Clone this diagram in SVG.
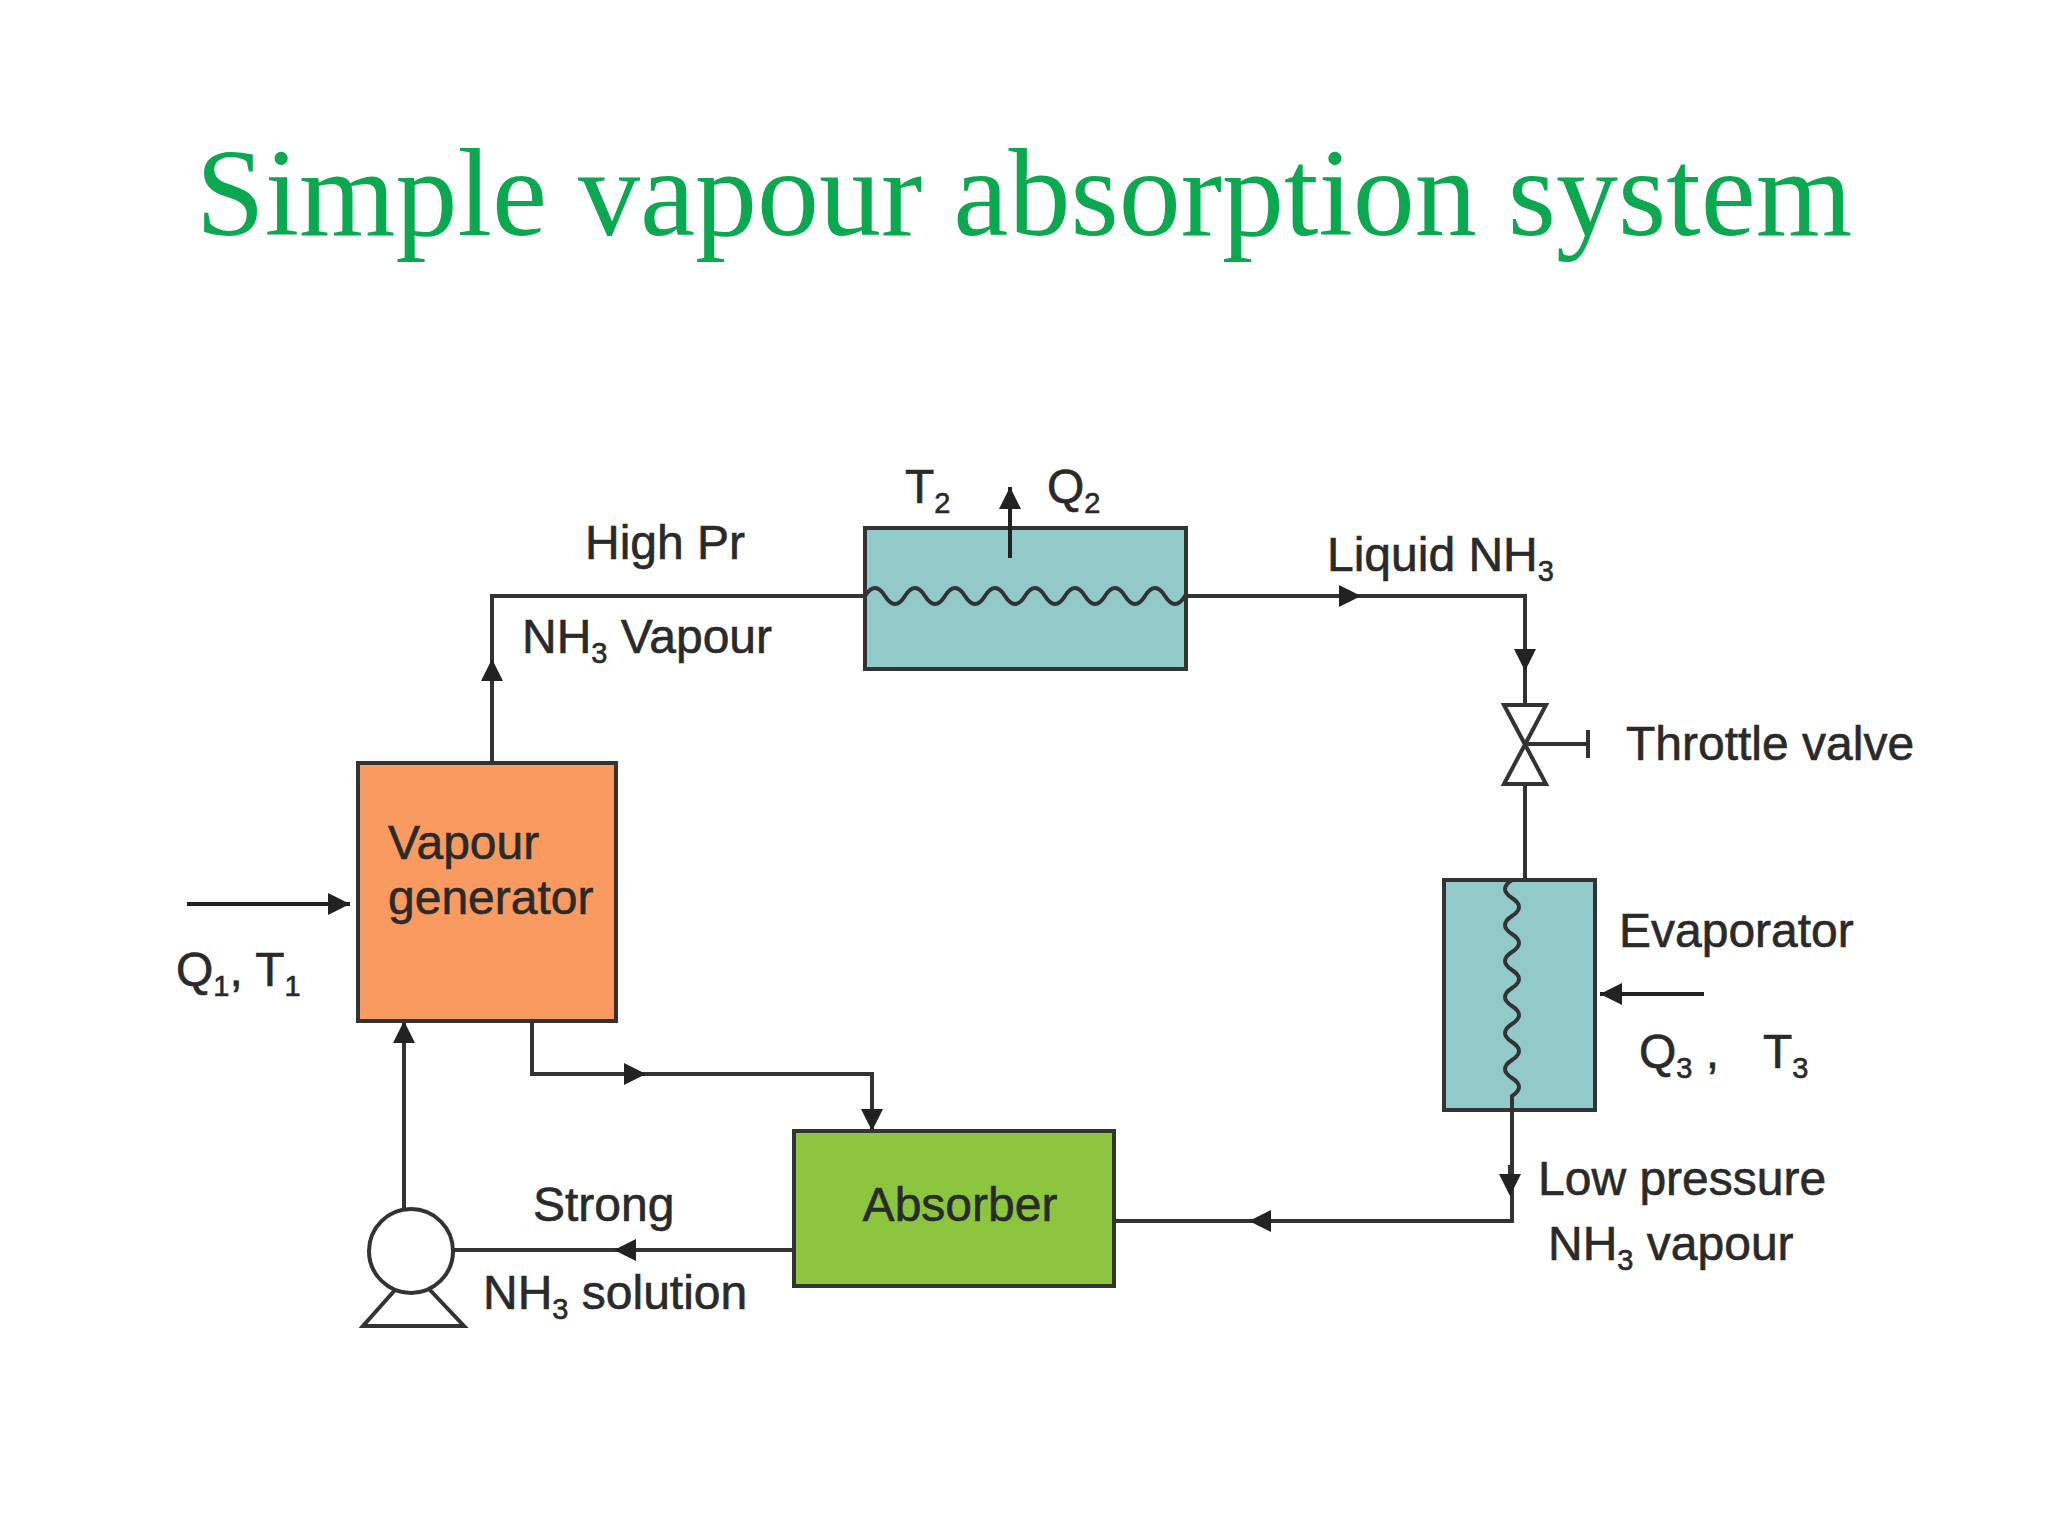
<svg xmlns="http://www.w3.org/2000/svg" width="2048" height="1536" viewBox="0 0 2048 1536">
<defs>
<style>
.t{font-family:"Liberation Sans",Arial,sans-serif;font-size:48px;fill:#2a2a2a;stroke:#2a2a2a;stroke-width:0.6}
.s{font-size:29px}
.box{stroke:#333;stroke-width:4}
.ln{fill:none;stroke:#333;stroke-width:4}
</style>
<marker id="a" viewBox="0 0 10 10" refX="5" refY="5" markerWidth="24" markerHeight="22" markerUnits="userSpaceOnUse" orient="auto"><path d="M0,0L10,5L0,10z" fill="#222"/></marker>
<marker id="ae" viewBox="0 0 10 10" refX="10" refY="5" markerWidth="24" markerHeight="22" markerUnits="userSpaceOnUse" orient="auto"><path d="M0,0L10,5L0,10z" fill="#222"/></marker>
</defs>
<rect width="2048" height="1536" fill="#fff"/>
<text x="1024" y="235" text-anchor="middle" font-family="Liberation Serif,serif" font-size="124" fill="#0aa84f">Simple vapour absorption system</text>
<g id="connectors">
<path class="ln" d="M492,763V596H865"/>
<path d="M492,690V670" stroke="#333" stroke-width="4" marker-end="url(#a)"/>
<path class="ln" d="M1186,596H1525V705"/>
<path d="M1330,596H1350" stroke="#333" stroke-width="4" marker-end="url(#a)"/>
<path d="M1525,640V660" stroke="#333" stroke-width="4" marker-end="url(#a)"/>
<path class="ln" d="M1525,784V880"/>
<path class="ln" d="M1512,1110V1221H1114"/>
<path d="M1510,1165V1185" stroke="#333" stroke-width="4" marker-end="url(#a)"/>
<path d="M1280,1221H1260" stroke="#333" stroke-width="4" marker-end="url(#a)"/>
<path class="ln" d="M532,1021V1074H872V1122"/>
<path d="M615,1074H635" stroke="#333" stroke-width="4" marker-end="url(#a)"/>
<path d="M872,1100V1131" stroke="#333" stroke-width="4" marker-end="url(#ae)"/>
<path class="ln" d="M794,1250H453"/>
<path d="M645,1250H625" stroke="#333" stroke-width="4" marker-end="url(#a)"/>
<path class="ln" d="M404,1209V1030"/>
<path d="M404,1040V1021" stroke="#333" stroke-width="4" marker-end="url(#ae)"/>
<path d="M187,904H350" stroke="#222" stroke-width="4" marker-end="url(#ae)"/>
<path d="M1704,994H1600" stroke="#222" stroke-width="4" marker-end="url(#ae)"/>
</g>
<g id="condenser">
<rect class="box" x="865" y="528" width="321" height="141" fill="#92c9c9"/>
<path class="ln" d="M865,596 q10,-16 20,0 t20,0 t20,0 t20,0 t20,0 t20,0 t20,0 t20,0 t20,0 t20,0 t20,0 t20,0 t20,0 t20,0 t20,0 t20,0 h1"/>
<path d="M1010,558V487" stroke="#222" stroke-width="4" marker-end="url(#ae)"/>
</g>
<g id="throttle">
<path class="box" d="M1504,705H1546L1504,784H1546Z" fill="#fff"/>
<path class="ln" d="M1525,744H1588M1588,730V758"/>
</g>
<g id="evaporator">
<rect class="box" x="1444" y="880" width="151" height="230" fill="#92c9c9"/>
<path class="ln" d="M1512,880 q-14,9 0,18 t0,18 t0,18 t0,18 t0,18 t0,18 t0,18 t0,18 t0,18 t0,18 t0,18 t0,18 v14"/>
</g>
<g id="generator">
<rect class="box" x="358" y="763" width="258" height="258" fill="#f99a60"/>
<text class="t" x="388" y="859">Vapour</text>
<text class="t" x="388" y="914">generator</text>
</g>
<g id="absorber">
<rect class="box" x="794" y="1131" width="320" height="155" fill="#8cc63f"/>
<text class="t" x="960" y="1221" text-anchor="middle">Absorber</text>
</g>
<g id="pump">
<circle class="box" cx="411" cy="1251" r="42" fill="#fff"/>
<path class="ln" d="M395,1290L363,1326H464L430,1290"/>
</g>
<g id="labels">
<text class="t" x="585" y="559">High Pr</text>
<text class="t" x="522" y="653">NH<tspan class="s" dy="10">3</tspan><tspan dy="-10"> Vapour</tspan></text>
<text class="t" x="905" y="503">T<tspan class="s" dy="10">2</tspan></text>
<text class="t" x="1047" y="503">Q<tspan class="s" dy="10">2</tspan></text>
<text class="t" x="1327" y="571">Liquid NH<tspan class="s" dy="10">3</tspan></text>
<text class="t" x="1626" y="760">Throttle valve</text>
<text class="t" x="176" y="986">Q<tspan class="s" dy="10">1</tspan><tspan dy="-10">, T</tspan><tspan class="s" dy="10">1</tspan></text>
<text class="t" x="1619" y="947">Evaporator</text>
<text class="t" x="1639" y="1068">Q<tspan class="s" dy="10">3</tspan><tspan dy="-10"> ,</tspan></text>
<text class="t" x="1763" y="1068">T<tspan class="s" dy="10">3</tspan></text>
<text class="t" x="1538" y="1195">Low pressure</text>
<text class="t" x="1548" y="1260">NH<tspan class="s" dy="10">3</tspan><tspan dy="-10"> vapour</tspan></text>
<text class="t" x="533" y="1221">Strong</text>
<text class="t" x="483" y="1309">NH<tspan class="s" dy="10">3</tspan><tspan dy="-10"> solution</tspan></text>
</g>
</svg>
